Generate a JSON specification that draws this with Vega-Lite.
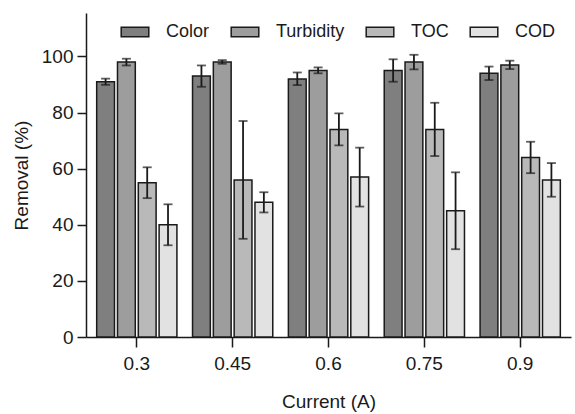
{
  "$schema": "https://vega.github.io/schema/vega-lite/v6.json",
  "autosize": "none",
  "width": 485,
  "height": 324,
  "padding": {"left": 86, "top": 13, "right": 4, "bottom": 77},
  "background": "white",
  "config": {
    "view": {"stroke": null},
    "font": "Liberation Sans",
    "axis": {
      "labelFont": "Liberation Sans",
      "titleFont": "Liberation Sans",
      "labelFontSize": 19,
      "titleFontSize": 19,
      "titleFontWeight": "normal",
      "labelColor": "#1a1a1a",
      "titleColor": "#1a1a1a",
      "domainColor": "#1a1a1a",
      "tickColor": "#1a1a1a",
      "domainWidth": 1.5,
      "tickWidth": 1.5,
      "grid": false
    },
    "legend": {
      "labelFont": "Liberation Sans",
      "labelFontSize": 18,
      "labelColor": "#1a1a1a"
    }
  },
  "data": {
    "values": [
      {"current": "0.3", "param": "Color", "value": 91, "lo": 89.9, "hi": 92.1},
      {"current": "0.3", "param": "Turbidity", "value": 98, "lo": 96.8, "hi": 99.2},
      {"current": "0.3", "param": "TOC", "value": 55, "lo": 49.5, "hi": 60.5},
      {"current": "0.3", "param": "COD", "value": 40, "lo": 32.7, "hi": 47.3},
      {"current": "0.45", "param": "Color", "value": 93, "lo": 89.2, "hi": 96.8},
      {"current": "0.45", "param": "Turbidity", "value": 98, "lo": 97.4, "hi": 98.7},
      {"current": "0.45", "param": "TOC", "value": 56, "lo": 35, "hi": 77},
      {"current": "0.45", "param": "COD", "value": 48, "lo": 44.4, "hi": 51.6},
      {"current": "0.6", "param": "Color", "value": 92, "lo": 89.8, "hi": 94.3},
      {"current": "0.6", "param": "Turbidity", "value": 95, "lo": 94, "hi": 96.1},
      {"current": "0.6", "param": "TOC", "value": 74, "lo": 68.3, "hi": 79.7},
      {"current": "0.6", "param": "COD", "value": 57, "lo": 46.5, "hi": 67.5},
      {"current": "0.75", "param": "Color", "value": 95, "lo": 91, "hi": 99},
      {"current": "0.75", "param": "Turbidity", "value": 98, "lo": 95.4, "hi": 100.6},
      {"current": "0.75", "param": "TOC", "value": 74, "lo": 64.5, "hi": 83.5},
      {"current": "0.75", "param": "COD", "value": 45, "lo": 31.3, "hi": 58.7},
      {"current": "0.9", "param": "Color", "value": 94, "lo": 91.6, "hi": 96.4},
      {"current": "0.9", "param": "Turbidity", "value": 97, "lo": 95.5, "hi": 98.5},
      {"current": "0.9", "param": "TOC", "value": 64, "lo": 58.4, "hi": 69.6},
      {"current": "0.9", "param": "COD", "value": 56, "lo": 50, "hi": 62}
    ]
  },
  "encoding": {
    "x": {
      "field": "current",
      "type": "nominal",
      "sort": ["0.3", "0.45", "0.6", "0.75", "0.9"],
      "scale": {"paddingInner": 0, "paddingOuter": 0.03},
      "axis": {
        "title": "Current (A)",
        "labelAngle": 0,
        "tickSize": 10,
        "labelPadding": 7,
        "titlePadding": 19
      }
    },
    "xOffset": {
      "field": "param",
      "type": "nominal",
      "sort": ["Color", "Turbidity", "TOC", "COD"],
      "scale": {"paddingInner": 0.144, "paddingOuter": 0.375}
    }
  },
  "layer": [
    {
      "mark": {"type": "bar", "stroke": "#1a1a1a", "strokeWidth": 1.5},
      "encoding": {
        "y": {
          "field": "value",
          "type": "quantitative",
          "scale": {"domain": [0, 115.5], "nice": false},
          "axis": {
            "title": "Removal (%)",
            "values": [0, 20, 40, 60, 80, 100],
            "tickSize": 9,
            "labelPadding": 4,
            "titlePadding": 10
          }
        },
        "fill": {
          "field": "param",
          "type": "nominal",
          "sort": ["Color", "Turbidity", "TOC", "COD"],
          "scale": {
            "domain": ["Color", "Turbidity", "TOC", "COD"],
            "range": ["#7f7f7f", "#9d9d9d", "#b9b9b9", "#e1e2e1"]
          },
          "legend": {
            "title": null,
            "orient": "none",
            "direction": "horizontal",
            "columns": 4,
            "legendX": 34,
            "legendY": 4,
            "symbolType": "M-1,-0.34H1V0.34H-1Z",
            "symbolSize": 762,
            "symbolStrokeColor": "#1a1a1a",
            "symbolStrokeWidth": 1.5,
            "symbolOpacity": 1,
            "labelOffset": 16,
            "columnPadding": 18
          }
        }
      }
    },
    {
      "mark": {"type": "rule", "color": "#1a1a1a", "strokeWidth": 1.8},
      "encoding": {
        "y": {"field": "lo", "type": "quantitative"},
        "y2": {"field": "hi"}
      }
    },
    {
      "mark": {"type": "tick", "color": "#1a1a1a", "thickness": 1.8, "size": 9, "orient": "horizontal"},
      "encoding": {
        "y": {"field": "lo", "type": "quantitative"}
      }
    },
    {
      "mark": {"type": "tick", "color": "#1a1a1a", "thickness": 1.8, "size": 9, "orient": "horizontal"},
      "encoding": {
        "y": {"field": "hi", "type": "quantitative"}
      }
    }
  ]
}
